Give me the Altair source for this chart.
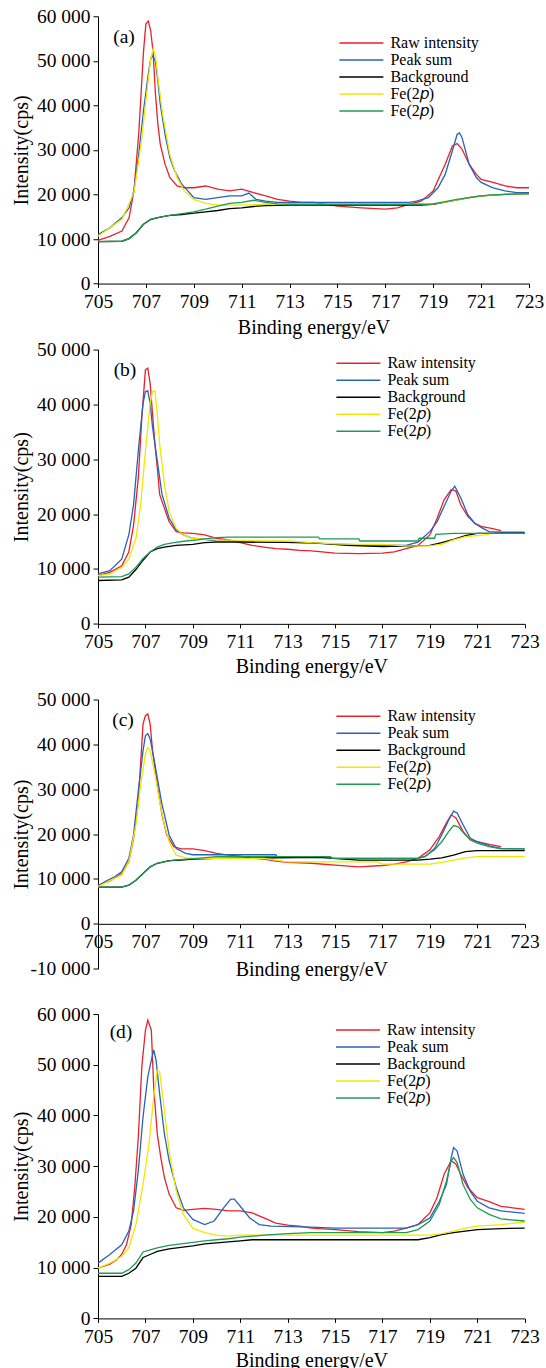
import altair as alt
import pandas as pd

# ---------------- shared labels / ticks ----------------
SERIES = ["Raw intensity", "Peak sum", "Background", "Fe(2𝑝)", "Fe(2𝑝) "]
COLORS = ["#e8222b", "#2a62b8", "#000000", "#f0e800", "#1f9a55"]
X_TICKS = [705, 707, 709, 711, 713, 715, 717, 719, 721, 723]
Y_TICKS_60 = [0, 10000, 20000, 30000, 40000, 50000, 60000]
Y_TICKS_50 = [0, 10000, 20000, 30000, 40000, 50000]
Y_TICKS_C = [-10000, 0, 10000, 20000, 30000, 40000, 50000]
PANEL_LABELS = ["(a)", "(b)", "(c)", "(d)"]

# ---------------- panel (a) ----------------
a_raw_e = [705, 705.5, 706, 706.3, 706.5, 706.7, 706.9, 707.0, 707.1, 707.2, 707.3, 707.4, 707.5, 707.6, 707.8, 708, 708.3, 708.6, 709, 709.5, 710, 710.5, 711, 711.5, 712, 712.5, 713, 713.5, 714, 715, 716, 717, 717.5, 718, 718.5, 719, 719.5, 719.8, 720, 720.2, 720.5, 720.8, 721, 721.5, 722, 722.5, 723]
a_raw_i = [9700, 10600, 11800, 14800, 20800, 33500, 52000, 58300, 58900, 56800, 52000, 42500, 35800, 31300, 26800, 23800, 21900, 21500, 21500, 21900, 21200, 20800, 21200, 20400, 19700, 18900, 18500, 18200, 18200, 17400, 17000, 16700, 17000, 17800, 18500, 20800, 26800, 30900, 31400, 30200, 26800, 24500, 23400, 22700, 21900, 21500, 21500]
a_sum_e = [705, 705.5, 706, 706.3, 706.5, 706.7, 706.9, 707.1, 707.2, 707.3, 707.4, 707.5, 707.6, 707.8, 708, 708.2, 708.5, 709, 709.5, 710, 710.5, 711, 711.3, 711.6, 712, 712.5, 713, 718, 718.3, 718.8, 719.2, 719.5, 719.8, 720, 720.1, 720.2, 720.5, 720.8, 721, 721.5, 722, 722.5, 723]
a_sum_i = [11000, 12500, 14800, 17000, 20800, 29000, 38800, 47000, 50400, 51200, 49700, 45500, 40300, 33500, 28300, 25300, 22300, 19300, 18900, 19300, 19700, 19700, 20300, 18900, 18500, 18200, 18200, 18200, 18500, 19300, 21500, 24500, 29800, 33500, 33800, 32800, 26800, 23800, 22700, 21500, 20800, 20400, 20400]
a_bg_e = [705, 706, 706.3, 706.6, 706.9, 707.2, 707.6, 708, 708.5, 709, 709.5, 710, 710.5, 711, 711.5, 712, 713, 718.5, 719, 719.5, 720, 720.5, 721, 722, 723]
a_bg_i = [9400, 9500, 10100, 11400, 13300, 14400, 14900, 15300, 15500, 15800, 16100, 16400, 16800, 17000, 17300, 17500, 17600, 17600, 17800, 18300, 18800, 19300, 19700, 20000, 20200]
a_fe1_e = [705, 706, 706.5, 706.8, 707, 707.2, 707.3, 707.4, 707.5, 707.7, 708, 708.3, 708.6, 709, 709.5, 710, 711, 712, 713, 718, 719, 719.5, 720, 720.5, 721, 722, 723]
a_fe1_i = [10600, 14400, 20400, 31300, 41000, 50400, 52700, 51200, 46300, 38000, 29000, 23800, 20800, 18900, 18000, 17600, 17600, 17800, 17800, 17800, 17900, 18300, 18800, 19300, 19700, 20000, 20200]
a_fe2_e = [705, 706, 706.3, 706.6, 706.9, 707.2, 707.6, 708, 708.5, 709, 709.5, 710, 710.5, 711, 711.5, 712, 712.5, 713, 718.5, 719, 719.5, 720, 720.5, 721, 721.5, 722, 723]
a_fe2_i = [9400, 9500, 10100, 11400, 13300, 14400, 14900, 15300, 15700, 16100, 16700, 17400, 18000, 18200, 18700, 18200, 17900, 17800, 17800, 17900, 18400, 18900, 19300, 19700, 19900, 20000, 20200]

# ---------------- panel (b) ----------------
b_raw_e = [705, 705.5, 706, 706.3, 706.5, 706.7, 706.85, 707.0, 707.1, 707.2, 707.3, 707.4, 707.5, 707.6, 707.8, 708, 708.3, 708.6, 709, 709.5, 710, 710.5, 711, 711.5, 712, 712.5, 713, 713.5, 714, 715, 716, 717, 717.5, 718, 718.5, 719, 719.3, 719.6, 719.9, 720.1, 720.3, 720.6, 720.9, 721.2, 721.6, 722]
b_raw_i = [8800, 9400, 10600, 13100, 18000, 26600, 37700, 46300, 46600, 43800, 38300, 32800, 28500, 23600, 21100, 18600, 16800, 16600, 16500, 16200, 15600, 15300, 14800, 14300, 14000, 13700, 13600, 13400, 13300, 12900, 12800, 12900, 13100, 13700, 14300, 16200, 19200, 22600, 24500, 24200, 21700, 19600, 18300, 17700, 17400, 17000]
b_sum_e = [705, 705.5, 706, 706.3, 706.5, 706.7, 706.9, 707.0, 707.1, 707.2, 707.3, 707.5, 707.7, 708, 708.3, 708.6, 709, 709.5, 710, 712, 714, 716, 718, 718.5, 719, 719.3, 719.6, 719.9, 720.05, 720.3, 720.6, 720.9, 721.2, 721.5, 722, 723]
b_sum_i = [9100, 9700, 11800, 16200, 21700, 31500, 40200, 42300, 42500, 40200, 35900, 29700, 23600, 19300, 17100, 16200, 15600, 15400, 15100, 15000, 14700, 14400, 14300, 14900, 16800, 18600, 21400, 24200, 25100, 23000, 19900, 18300, 17500, 16800, 16700, 16700]
b_bg_e = [705, 706, 706.3, 706.6, 706.9, 707.2, 707.5, 707.8, 708.3, 709, 709.5, 710, 711, 714, 715.5, 717, 719, 719.5, 720, 720.5, 721, 723]
b_bg_i = [7900, 8000, 8500, 9900, 11600, 13100, 13700, 14000, 14300, 14500, 14800, 14900, 14900, 14800, 14300, 14100, 14300, 14800, 15400, 16100, 16500, 16500]
b_fe1_e = [705, 705.5, 706, 706.3, 706.6, 706.8, 707.0, 707.2, 707.3, 707.4, 707.5, 707.6, 707.8, 708, 708.3, 708.6, 709, 709.5, 710, 711, 712, 713, 714, 715, 716, 717, 718, 719, 719.5, 720, 720.5, 721, 721.5]
b_fe1_i = [8800, 9100, 10300, 11800, 15600, 21700, 31500, 40200, 42300, 42500, 38300, 32800, 25500, 20500, 17400, 16200, 15600, 15400, 15300, 15200, 15100, 15100, 14800, 14600, 14500, 14500, 14200, 14200, 14500, 15300, 15900, 16100, 16300]
b_fe2_e = [705, 706, 706.3, 706.6, 706.9, 707.2, 707.5, 707.8, 708.2, 708.7, 709.2, 709.5, 710, 710.5, 714.3, 714.35, 716, 716.05, 718.5, 718.55, 719.2, 719.25, 720, 723]
b_fe2_i = [8500, 8600, 9100, 10300, 11900, 13100, 14000, 14500, 14800, 15100, 15300, 15500, 15700, 15800, 15800, 15500, 15500, 15100, 15100, 15600, 15600, 16300, 16500, 16500]

# ---------------- panel (c) ----------------
c_raw_e = [705, 705.5, 706, 706.3, 706.5, 706.7, 706.9, 707.0, 707.1, 707.2, 707.3, 707.5, 707.7, 707.9, 708.2, 708.5, 709, 709.5, 710, 710.5, 711, 711.5, 712, 712.5, 713, 714, 715, 716, 717, 717.5, 718, 718.5, 719, 719.4, 719.7, 719.9, 720.1, 720.4, 720.7, 721, 721.5, 722]
c_raw_i = [8600, 9500, 11200, 13800, 19000, 27300, 44500, 46400, 46800, 44500, 38600, 31100, 24300, 19800, 17200, 16700, 16700, 16300, 15700, 15300, 15100, 14600, 14400, 14000, 13700, 13500, 13100, 12700, 13000, 13300, 13800, 14600, 16500, 19500, 22500, 24300, 23600, 20600, 18700, 18300, 17700, 17200]
c_sum_e = [705, 705.3, 705.7, 706, 706.3, 706.5, 706.7, 706.9, 707.0, 707.1, 707.2, 707.35, 707.5, 707.7, 708, 708.3, 708.7, 709, 712.5, 712.55, 714.8, 714.85, 718.5, 718.8, 719.2, 719.5, 719.8, 720.0, 720.15, 720.4, 720.7, 721, 721.5, 722, 723]
c_sum_i = [8500, 9400, 10500, 11600, 14600, 19800, 29600, 38600, 41900, 42400, 41200, 37100, 32600, 26600, 19800, 16800, 15700, 15400, 15400, 15000, 15000, 14600, 14600, 15000, 16800, 19800, 23200, 25100, 24700, 22100, 19100, 18300, 17400, 16800, 16700]
c_bg_e = [705, 706, 706.3, 706.6, 706.9, 707.2, 707.5, 708, 708.5, 709, 710, 714.3, 716, 718.5, 719, 719.5, 720, 720.5, 721, 723]
c_bg_i = [8200, 8200, 8600, 9700, 11200, 12700, 13500, 14100, 14200, 14400, 14600, 14800, 14200, 14200, 14400, 14700, 15300, 16100, 16300, 16300]
c_fe1_e = [705, 706, 706.3, 706.6, 706.8, 707.0, 707.1, 707.2, 707.4, 707.6, 707.8, 708, 708.3, 708.7, 709, 712, 712.5, 713, 716.8, 717, 719, 719.5, 720, 720.5, 721, 723]
c_fe1_i = [8300, 10900, 13800, 22100, 31100, 37800, 39300, 38600, 33400, 27300, 22100, 18300, 15300, 14700, 14600, 14600, 14200, 13800, 13800, 13300, 13300, 13700, 14200, 14700, 15000, 15000]
c_fe2_e = [705, 706, 706.3, 706.6, 706.9, 707.2, 707.5, 707.8, 708.2, 708.7, 709.2, 710, 714.8, 714.85, 718.5, 718.8, 719.2, 719.5, 719.8, 720.0, 720.2, 720.5, 720.8, 721, 721.5, 722, 723]
c_fe2_i = [8200, 8200, 8600, 9700, 11200, 12700, 13500, 13800, 14200, 14400, 14600, 15000, 15000, 14600, 14600, 15100, 16500, 18300, 20600, 21900, 21600, 19800, 18500, 18000, 17200, 16700, 16700]

# ---------------- panel (d) ----------------
d_raw_e = [705, 705.5, 705.8, 706, 706.2, 706.4, 706.55, 706.7, 706.85, 707.0, 707.1, 707.25, 707.35, 707.5, 707.65, 707.8, 708, 708.3, 708.6, 709, 709.5, 710, 710.5, 711, 711.5, 712, 712.5, 713, 713.5, 714, 715, 716, 717, 717.5, 718, 718.5, 719, 719.3, 719.6, 719.9, 720.1, 720.3, 720.6, 721, 721.5, 722, 722.5, 723]
d_raw_i = [9900, 10700, 11600, 12600, 14500, 18500, 25800, 35700, 49700, 56800, 58800, 56800, 45600, 36400, 31700, 27800, 24500, 21800, 21300, 21500, 21700, 21500, 21200, 21200, 20800, 19800, 18800, 18400, 18200, 17800, 17500, 17100, 16900, 17200, 17800, 18500, 20800, 23800, 28400, 31100, 30400, 28400, 25800, 23800, 23000, 22100, 21800, 21500]
d_sum_e = [705, 705.5, 706, 706.3, 706.5, 706.7, 706.9, 707.1, 707.25, 707.35, 707.45, 707.6, 707.8, 708, 708.3, 708.6, 709, 709.5, 709.9, 710.3, 710.6, 710.75, 711, 711.4, 711.8, 712.3, 714, 715, 718, 718.5, 719, 719.4, 719.7, 719.9, 720.0, 720.15, 720.4, 720.7, 721, 721.5, 722, 723]
d_sum_i = [10900, 12600, 14500, 17200, 21200, 29100, 39700, 47600, 50900, 52900, 50900, 44300, 36400, 31100, 25800, 21800, 19500, 18500, 19200, 21800, 23500, 23500, 22100, 19800, 18500, 18200, 18000, 17800, 17800, 18500, 19800, 23100, 26400, 31700, 33700, 33000, 28400, 25100, 23100, 21800, 21200, 20700]
d_bg_e = [705, 706, 706.3, 706.6, 706.9, 707.2, 707.5, 708, 708.5, 709, 709.5, 710, 710.5, 711, 711.5, 718.5, 719, 719.5, 720, 720.5, 721, 722, 723]
d_bg_i = [8300, 8300, 8900, 9900, 12000, 12600, 13200, 13700, 14000, 14300, 14700, 14900, 15100, 15300, 15500, 15500, 15900, 16500, 16900, 17200, 17500, 17700, 17800]
d_fe1_e = [705, 705.5, 706, 706.3, 706.6, 706.9, 707.15, 707.35, 707.5, 707.6, 707.75, 708, 708.3, 708.6, 709, 709.5, 710, 710.5, 711, 718.5, 719, 719.5, 720, 720.5, 721, 722, 723]
d_fe1_i = [9900, 10900, 12200, 13900, 18500, 26400, 34400, 43600, 48900, 48600, 43000, 33000, 25100, 20500, 17800, 16900, 16400, 16200, 16400, 16400, 16400, 16700, 17200, 17800, 18200, 18500, 19000]
d_fe2_e = [705, 706, 706.3, 706.6, 706.9, 707.2, 707.5, 708, 708.5, 709, 709.5, 710, 710.5, 711, 711.5, 712, 713, 714, 718, 718.5, 719, 719.4, 719.7, 719.9, 720.0, 720.15, 720.4, 720.7, 721, 721.5, 722, 723]
d_fe2_i = [8900, 8900, 9600, 10900, 13100, 13500, 13900, 14400, 14700, 15000, 15300, 15500, 15700, 16000, 16200, 16400, 16700, 16900, 16900, 17500, 19200, 22500, 27100, 31100, 31700, 30700, 26400, 23500, 21800, 20500, 19600, 19200]


def frame(pairs):
    rows = []
    for name, (e, i) in zip(SERIES, pairs):
        if len(e) != len(i):
            raise ValueError(f"length mismatch in {name}: {len(e)} vs {len(i)}")
        for k, (x, y) in enumerate(zip(e, i)):
            rows.append({"series": name, "idx": k, "energy": x, "intensity": y})
    return pd.DataFrame(rows)


FONT = "Liberation Serif"
Y_LABEL_EXPR = ("datum.value < 0 ? '-' + replace(format(-datum.value, ','), ',', ' ') "
                ": replace(format(datum.value, ','), ',', ' ')")


def panel(df, label, width, height, ydom, yticks, leg_x, leg_y, lab_x, lab_y,
          x_offset=0, x_title_y=44):
    xaxis = alt.Axis(values=X_TICKS, format="d", title="Binding energy/eV",
                     offset=x_offset, tickSize=4, labelPadding=5,
                     titleX=width / 2, titleY=x_title_y, titleBaseline="middle",
                     titleAlign="center", labelFlush=False)
    yaxis = alt.Axis(values=yticks, labelExpr=Y_LABEL_EXPR, title="Intensity(cps)",
                     tickSize=5, labelPadding=3, titleX=21 - 97.3, titleY=height / 2,
                     titleAngle=270, titleBaseline="middle", titleAlign="center")
    legend = alt.Legend(orient="none", legendX=leg_x, legendY=leg_y, title=None,
                        symbolType="stroke", symbolSize=44 * 44, symbolStrokeWidth=1.5,
                        clipHeight=15, rowPadding=0, labelFont=FONT, labelFontSize=16,
                        labelOffset=6, labelColor="black", padding=0, labelLimit=0)
    lines = alt.Chart(df).mark_line(strokeWidth=1.3, interpolate="linear").encode(
        x=alt.X("energy:Q", scale=alt.Scale(domain=[705, 723], nice=False, zero=False), axis=xaxis),
        y=alt.Y("intensity:Q", scale=alt.Scale(domain=ydom, nice=False, zero=False), axis=yaxis),
        color=alt.Color("series:N", scale=alt.Scale(domain=SERIES, range=COLORS), legend=legend),
        detail="series:N",
    )
    txt = alt.Chart(pd.DataFrame({"label": [label]})).mark_text(
        font=FONT, fontSize=19.5, align="center", baseline="middle", color="black"
    ).encode(x=alt.value(lab_x), y=alt.value(lab_y), text="label:N")
    return alt.layer(lines, txt).properties(width=width, height=height)


df_a = frame([(a_raw_e, a_raw_i), (a_sum_e, a_sum_i), (a_bg_e, a_bg_i), (a_fe1_e, a_fe1_i), (a_fe2_e, a_fe2_i)])
df_b = frame([(b_raw_e, b_raw_i), (b_sum_e, b_sum_i), (b_bg_e, b_bg_i), (b_fe1_e, b_fe1_i), (b_fe2_e, b_fe2_i)])
df_c = frame([(c_raw_e, c_raw_i), (c_sum_e, c_sum_i), (c_bg_e, c_bg_i), (c_fe1_e, c_fe1_i), (c_fe2_e, c_fe2_i)])
df_d = frame([(d_raw_e, d_raw_i), (d_sum_e, d_sum_i), (d_bg_e, d_bg_i), (d_fe1_e, d_fe1_i), (d_fe2_e, d_fe2_i)])

H_A, H_B, H_C, H_D = 267.3, 274.3, 269.2, 304.4
pa = panel(df_a, PANEL_LABELS[0], 431, H_A, [0, 60000], Y_TICKS_60, 240.4, 19.2, 26, 20.7, x_title_y=44)
pb = panel(df_b, PANEL_LABELS[1], 426.7, H_B, [0, 50000], Y_TICKS_50, 237.4, 6.1, 27, 20, x_title_y=43)
pc = panel(df_c, PANEL_LABELS[2], 426.7, H_C, [-10000, 50000], Y_TICKS_C, 237.4, 9.2, 25, 20,
           x_offset=-H_C * 10000 / 60000, x_title_y=45.5)
pd_ = panel(df_d, PANEL_LABELS[3], 426.7, H_D, [0, 60000], Y_TICKS_60, 237, 8.5, 23, 17.5, x_title_y=42)


def indep(ch):
    return ch.resolve_scale(x="independent", y="independent", color="independent").resolve_legend(color="independent")


ab = indep(alt.vconcat(pa, pb, spacing=1.3))
abc = indep(alt.vconcat(ab, pc, spacing=12.25))
chart = indep(alt.vconcat(abc, pd_, spacing=23.75))

chart = chart.properties(
    padding={"left": 11, "top": 6.25, "right": 0, "bottom": 0},
    background="white",
).configure_view(stroke=None).configure_axis(
    grid=False, domainColor="black", tickColor="black", labelColor="black",
    titleColor="black", labelFont=FONT, titleFont=FONT, labelFontSize=19.5,
    titleFontSize=20, titleFontWeight="normal", domainWidth=1, tickWidth=1,
)

chart.save("out.html", embed_options={"renderer": "svg", "actions": False})
